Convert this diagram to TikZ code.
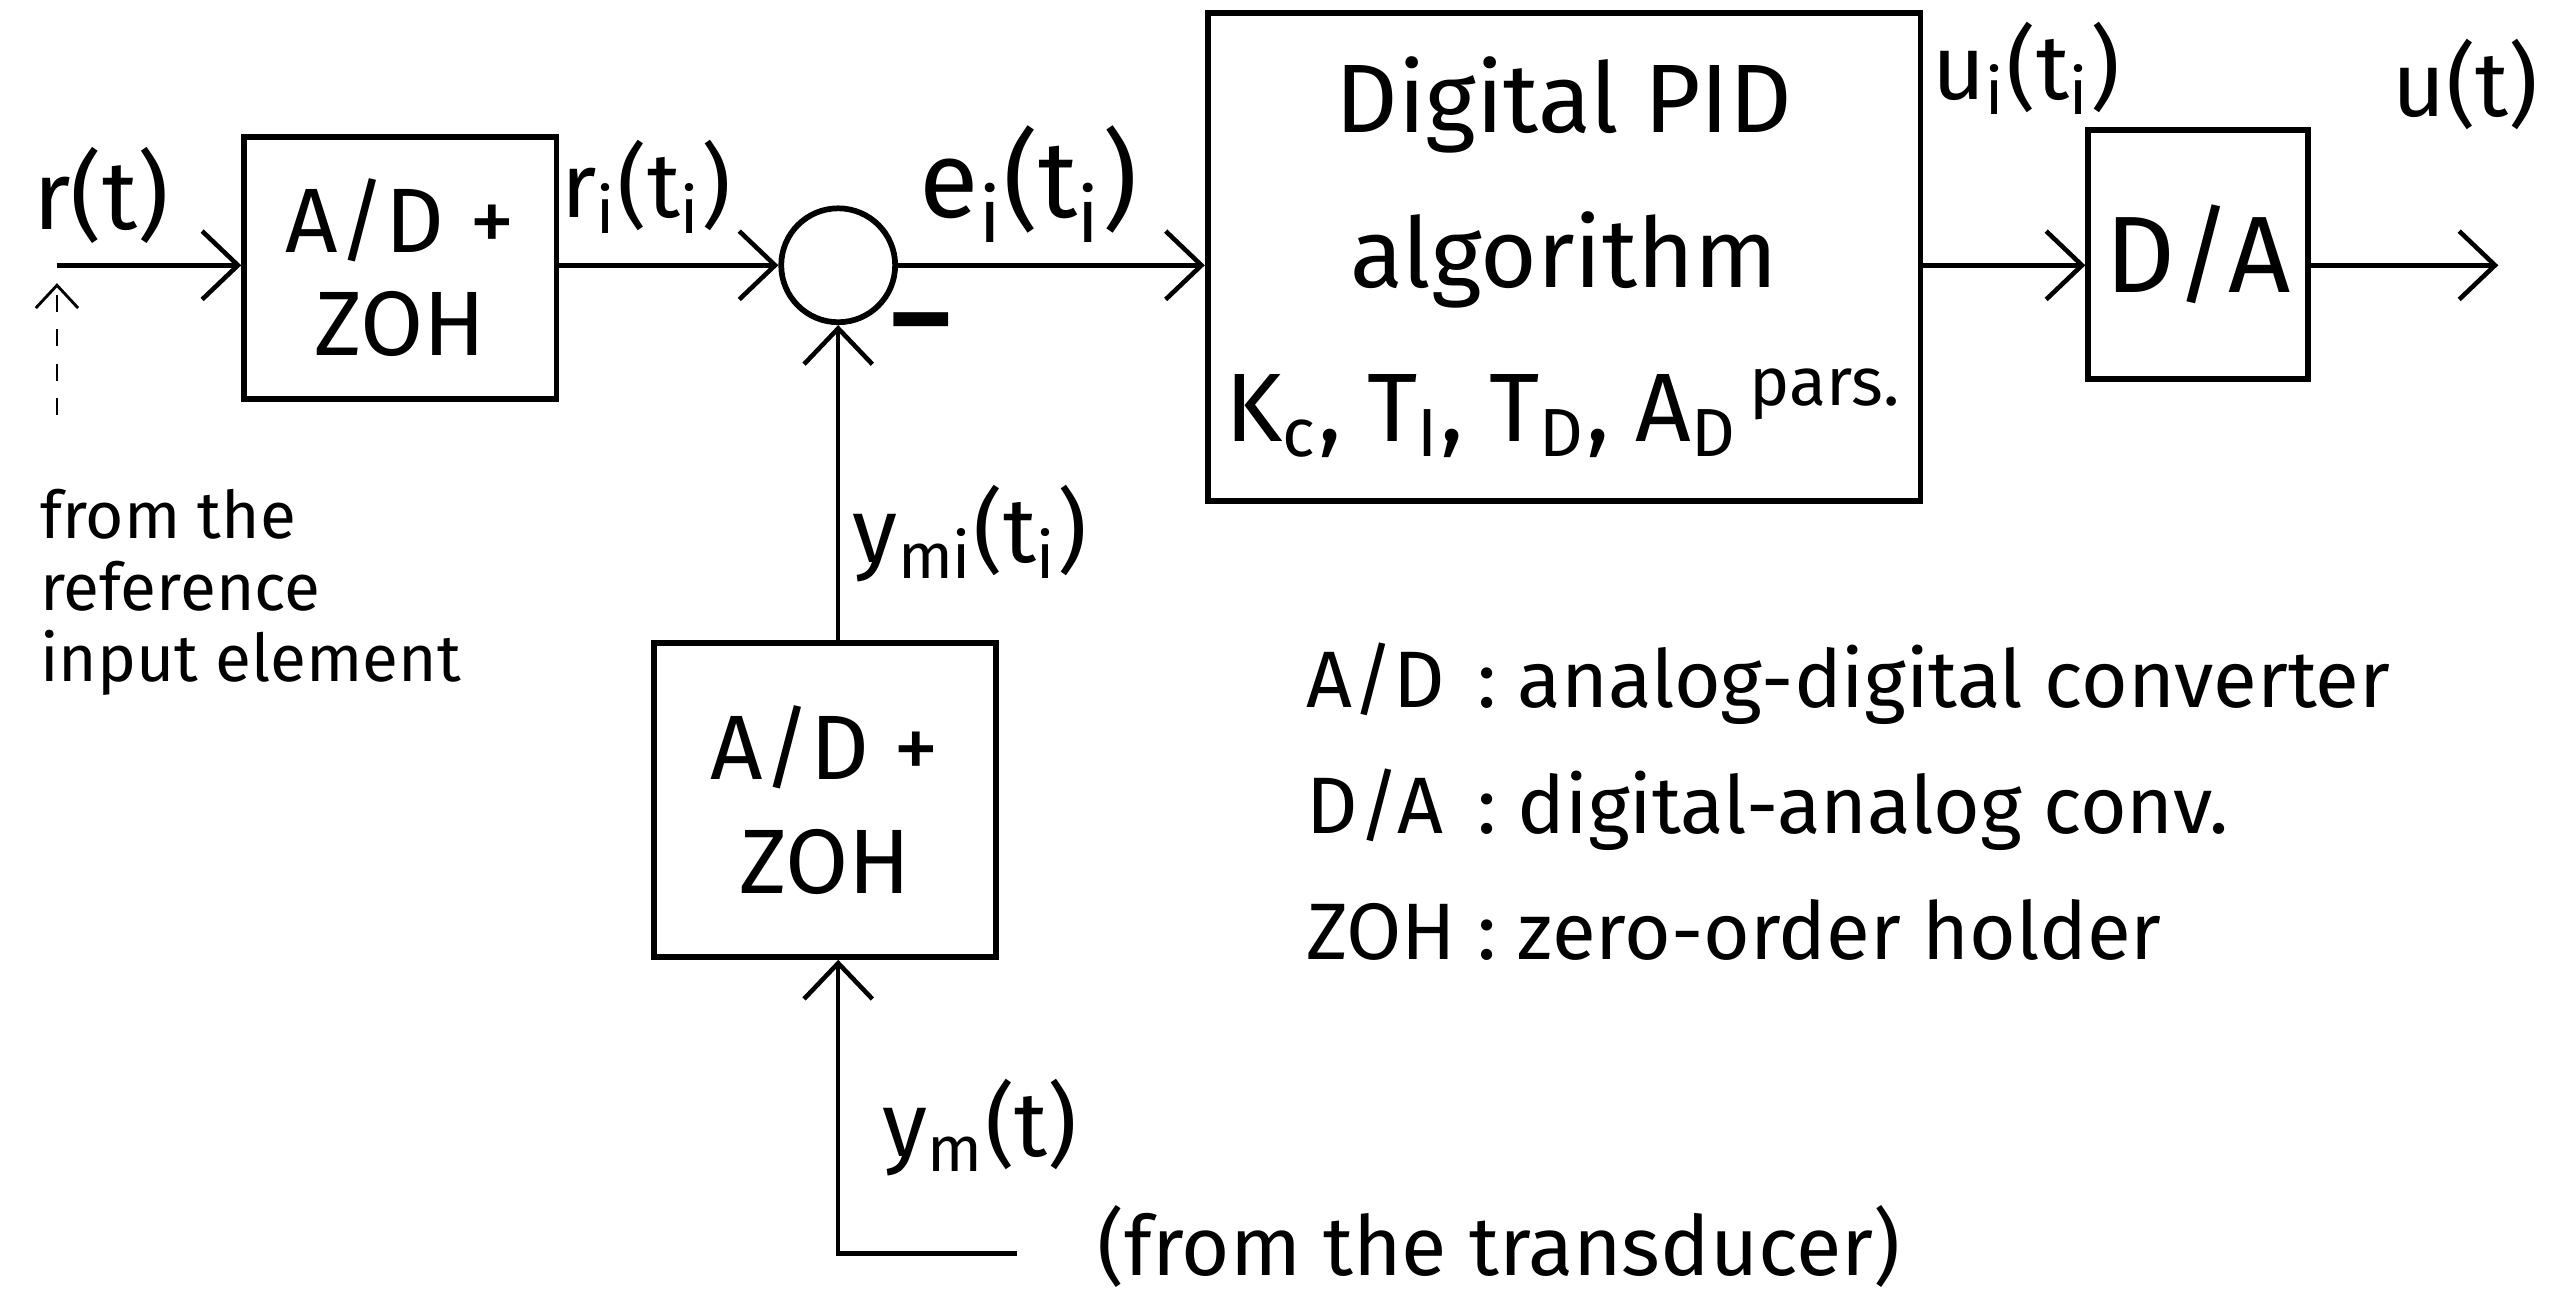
\documentclass[tikz,border=0pt]{standalone}
\usepackage{fontspec}
\setmainfont{Fira Sans}
\usetikzlibrary{arrows.meta}

\begin{document}
\begin{tikzpicture}[
    x=1cm,y=1cm,
    every node/.style={font=\fontsize{16}{19}\selectfont},
    blk/.style={draw=black, line width=1pt, inner sep=0pt, align=center},
    sig/.style={-{Straight Barb[length=2.2mm,width=4.2mm]}, line width=0.8pt},
    hint/.style={-{Straight Barb[length=1.4mm,width=2.6mm]}, dashed, line width=0.5pt},
    lbl/.style={font=\fontsize{16}{19}\selectfont},
    note/.style={font=\fontsize{11.5}{12.5}\selectfont, align=left, inner sep=0pt}
]
    \useasboundingbox (0,0) rectangle (15.68,-8.03);

    \node[blk, minimum width=1.92cm, minimum height=1.61cm, font=\fontsize{16}{18}\selectfont] (adc1) at (2.46,-1.645) {A/D +\\ZOH};
    \node[draw, circle, line width=1pt, minimum size=0.70cm, inner sep=0pt] (sum) at (5.15,-1.63) {};
    \node[blk, minimum width=4.38cm, minimum height=3.00cm, font=\fontsize{17}{27}\selectfont] (pid) at (9.61,-1.58) {Digital PID\\algorithm\\K\textsubscript{c}, T\textsubscript{I}, T\textsubscript{D}, A\textsubscript{D}\textsuperscript{\,pars.}};
    \node[blk, minimum width=1.35cm, minimum height=1.53cm, font=\fontsize{19}{22}\selectfont] (dac) at (13.505,-1.565) {D/A};
    \node[blk, minimum width=2.10cm, minimum height=1.93cm, font=\fontsize{16}{20}\selectfont] (adc2) at (5.07,-4.915) {A/D +\\ZOH};

    \coordinate (rin) at (0.35,-1.63);
    \coordinate (rsrc) at (0.35,-2.55);
    \coordinate (rtip) at (0.35,-1.74);
    \coordinate (uout) at (15.35,-1.63);
    \coordinate (ymsrc) at (6.25,-7.70);
    \coordinate (ymcorner) at (5.15,-7.70);

    \draw[sig] (rin) -- (adc1.west |- rin);
    \draw[sig] (adc1.east |- sum) -- (sum.west);
    \draw[sig] (sum.east) -- (sum.east -| pid.west);
    \draw[sig] (pid.east |- sum) -- (dac.west |- sum);
    \draw[sig] (dac.east |- sum) -- (uout);
    \draw[sig] (adc2.north -| sum) -- (sum.south);
    \draw[sig] (ymsrc) -- (ymcorner) -- (adc2.south -| ymcorner);
    \draw[hint] (rsrc) -- (rtip);

    \node[lbl, font=\fontsize{17}{20}\selectfont] (rlbl) at (0.62,-1.20) {r(t)};
    \node[lbl] (rilbl) at (3.97,-1.15) {r\textsubscript{i}(t\textsubscript{i})};
    \node[lbl, font=\fontsize{19}{22}\selectfont] (elbl) at (6.32,-1.13) {e\textsubscript{i}(t\textsubscript{i})};
    \node[lbl] (uilbl) at (12.45,-0.42) {u\textsubscript{i}(t\textsubscript{i})};
    \node[lbl] (ulbl) at (15.15,-0.52) {u(t)};
    \node[lbl] (ymilbl) at (5.96,-3.28) {y\textsubscript{mi}(t\textsubscript{i})};
    \node[lbl] (ymlbl) at (6.02,-6.93) {y\textsubscript{m}(t)};
    \node[lbl, anchor=west, font=\fontsize{14.5}{17}\selectfont] (trans) at (6.62,-7.66) {(from the transducer)};
    \node[font=\bfseries\fontsize{20}{20}\selectfont] (minus) at (5.66,-2.05) {–};
    \node[note, anchor=north west] (srcnote) at (0.24,-3.00) {from the\\reference\\input element};
    \node[anchor=north west, inner sep=0pt, font=\fontsize{14}{22}\selectfont] (legend) at (8.02,-3.80) {%
        \begin{tabular}{@{}l@{\ :\ }l@{}}
            A/D & analog-digital converter\\
            D/A & digital-analog conv.\\
            ZOH & zero-order holder
        \end{tabular}};
\end{tikzpicture}
\end{document}
